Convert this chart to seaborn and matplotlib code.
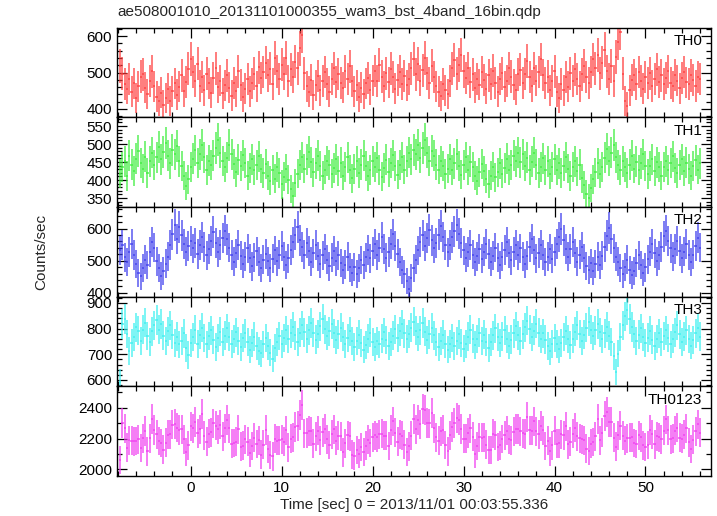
import numpy as np
import matplotlib
matplotlib.use("Agg")
import matplotlib.pyplot as plt
from matplotlib.ticker import MultipleLocator
import seaborn as sns

# binned light curve, 0.25 s bins starting at t = -7.75 s
bin_start = -7.75
bin_width = 0.25

th0 = [518, 497, 468, 455, 482, 447, 470, 431, 462, 489, 495, 458, 441, 476, 503, 462,
       434, 421, 445, 412, 430, 456, 423, 448, 470, 439, 461, 492, 448, 475, 510, 538,
       501, 476, 524, 463, 488, 452, 497, 470, 445, 486, 512, 459, 478, 443, 465, 492,
       458, 437, 471, 449, 503, 466, 432, 455, 481, 448, 470, 497, 462, 515, 484, 501,
       527, 492, 510, 468, 539, 503, 481, 522, 497, 541, 476, 509, 488, 530, 512, 566,
       603, 498, 462, 447, 479, 438, 465, 490, 452, 476, 501, 468, 447, 483, 512, 475,
       496, 471, 458, 503, 482, 517, 476, 449, 465, 432, 458, 441, 470, 486, 453, 478,
       504, 476, 521, 489, 462, 498, 473, 510, 487, 455, 479, 502, 468, 491, 465, 483,
       512, 537, 495, 523, 478, 506, 541, 498, 472, 519, 488, 462, 447, 435, 469, 452,
       441, 476, 512, 534, 497, 521, 548, 503, 486, 512, 473, 495, 458, 482, 467, 501,
       479, 456, 492, 468, 505, 472, 447, 483, 498, 461, 476, 512, 489, 467, 453, 495,
       508, 472, 496, 531, 487, 463, 512, 478, 501, 536, 494, 471, 489, 452, 476, 503,
       447, 431, 468, 452, 487, 461, 498, 476, 509, 483, 462, 495, 518, 487, 472, 501,
       536, 512, 549, 498, 527, 563, 503, 481, 518, 476, 542, 583, 612, 497, 421, 407,
       452, 479, 493, 468, 501, 476, 455, 487, 472, 498, 463, 481, 509, 474, 492, 468,
       485, 503, 471, 462, 494, 478, 457, 486, 501, 473, 468, 492, 479, 463, 488, 482]

th1 = [418, 437, 452, 411, 468, 443, 426, 459, 481, 447, 432, 465, 419, 452, 476, 441,
       463, 491, 457, 478, 502, 468, 446, 483, 471, 495, 452, 438, 412, 384, 402, 437,
       459, 482, 447, 471, 496, 463, 428, 454, 441, 467, 489, 512, 476, 453, 437, 462,
       498, 471, 445, 422, 456, 438, 469, 447, 412, 433, 458, 427, 441, 466, 432, 419,
       445, 412, 398, 427, 404, 436, 419, 388, 409, 432, 401, 376, 356, 392, 418, 441,
       463, 432, 457, 478, 449, 421, 446, 467, 438, 412, 429, 453, 441, 418, 434, 457,
       426, 448, 412, 437, 463, 429, 405, 431, 452, 419, 443, 467, 438, 411, 428, 452,
       437, 462, 428, 409, 433, 456, 421, 447, 469, 438, 415, 441, 463, 429, 452, 476,
       458, 483, 471, 497, 462, 488, 512, 476, 453, 481, 467, 443, 429, 452, 438, 417,
       432, 458, 427, 446, 471, 439, 415, 442, 463, 428, 451, 437, 412, 398, 421, 445,
       426, 403, 389, 412, 437, 408, 421, 446, 418, 433, 459, 427, 441, 468, 452, 476,
       449, 471, 438, 462, 427, 451, 476, 443, 419, 437, 461, 428, 452, 417, 436, 458,
       427, 446, 419, 438, 463, 432, 411, 436, 452, 424, 443, 405, 387, 362, 351, 378,
       402, 421, 446, 418, 437, 462, 487, 453, 476, 498, 463, 441, 428, 452, 437, 419,
       443, 467, 432, 451, 428, 446, 471, 438, 417, 439, 458, 426, 449, 435, 412, 437,
       452, 428, 447, 466, 433, 419, 441, 457, 426, 448, 431, 412, 438, 455, 429, 446]

th2 = [532, 548, 511, 496, 527, 553, 518, 489, 462, 451, 478, 503, 486, 527, 559, 541,
       498, 476, 452, 467, 491, 512, 548, 583, 612, 567, 604, 579, 553, 528, 547, 562,
       538, 556, 521, 549, 573, 542, 517, 536, 561, 589, 554, 527, 548, 571, 593, 566,
       541, 518, 497, 523, 549, 516, 491, 513, 538, 507, 482, 511, 529, 497, 476, 503,
       521, 498, 477, 506, 532, 498, 519, 545, 512, 486, 508, 533, 557, 581, 604, 563,
       542, 519, 556, 531, 497, 523, 548, 514, 491, 517, 536, 503, 482, 509, 531, 498,
       517, 493, 471, 488, 512, 479, 463, 481, 458, 476, 502, 487, 511, 534, 507, 529,
       552, 518, 541, 573, 536, 509, 527, 551, 583, 547, 522, 496, 471, 458, 437, 412,
       446, 478, 503, 532, 558, 579, 547, 571, 596, 563, 538, 556, 581, 607, 574, 549,
       526, 548, 573, 591, 612, 584, 556, 532, 509, 527, 548, 519, 496, 514, 537, 506,
       528, 553, 521, 497, 516, 541, 509, 486, 512, 534, 558, 523, 501, 527, 549, 517,
       538, 512, 491, 516, 543, 568, 532, 507, 524, 549, 518, 496, 513, 537, 506, 528,
       551, 574, 598, 563, 537, 512, 536, 558, 523, 497, 519, 542, 508, 483, 471, 492,
       468, 489, 512, 487, 516, 543, 578, 602, 567, 538, 512, 497, 476, 458, 481, 503,
       472, 455, 468, 493, 517, 486, 463, 479, 504, 528, 551, 523, 498, 517, 542, 576,
       593, 561, 538, 514, 537, 562, 531, 507, 528, 553, 518, 496, 519, 547, 572, 541]

th3 = [592, 818, 836, 779, 712, 743, 768, 805, 791, 752, 796, 823, 771, 747, 789, 812,
       834, 796, 817, 772, 751, 789, 812, 776, 743, 769, 738, 752, 781, 724, 697, 742,
       768, 795, 741, 776, 803, 762, 738, 771, 794, 756, 729, 763, 788, 747, 772, 801,
       769, 741, 758, 786, 752, 727, 763, 781, 749, 718, 742, 769, 733, 712, 704, 738,
       762, 731, 706, 683, 724, 748, 771, 739, 762, 794, 758, 781, 806, 773, 749, 784,
       812, 786, 761, 793, 821, 784, 757, 779, 808, 836, 797, 772, 789, 817, 782, 756,
       778, 803, 769, 741, 763, 789, 752, 728, 751, 776, 743, 718, 736, 761, 784, 749,
       727, 752, 738, 761, 786, 754, 731, 748, 772, 797, 763, 789, 816, 782, 758, 779,
       803, 827, 792, 768, 794, 821, 787, 756, 778, 802, 773, 747, 729, 752, 776, 741,
       718, 739, 763, 731, 752, 778, 744, 722, 741, 769, 795, 761, 737, 759, 784, 752,
       776, 749, 724, 748, 773, 801, 767, 742, 769, 793, 758, 734, 757, 782, 809, 774,
       751, 778, 805, 831, 797, 768, 792, 819, 784, 759, 781, 757, 733, 711, 739, 762,
       741, 719, 743, 768, 792, 758, 736, 761, 787, 812, 779, 753, 776, 803, 827, 796,
       771, 794, 818, 786, 759, 781, 806, 772, 748, 693, 631, 702, 768, 812, 847, 872,
       838, 806, 779, 753, 776, 801, 768, 742, 765, 791, 757, 733, 758, 782, 749, 771,
       794, 762, 738, 761, 786, 812, 777, 748, 769, 793, 758, 734, 756, 781, 803, 769]

# TH0123 is the sum of the four bands
th0123 = list(np.array(th0) + np.array(th1) + np.array(th2) + np.array(th3))

bands = ["TH0", "TH1", "TH2", "TH3", "TH0123"]
series = [th0, th1, th2, th3, th0123]
colors = ["#ff3c3c", "#3cee3c", "#3c3cee", "#3cf0f0", "#f03cf0"]
ylims = [(377, 623), (325, 574), (388, 667), (575, 924), (1957, 2539)]
ymajor = [100, 50, 100, 100, 200]
yminor = [20, 10, 20, 20, 100]

sns.set_theme(style="ticks")
plt.rcParams["font.family"] = ["Liberation Sans", "DejaVu Sans"]

fig, axes = plt.subplots(5, 1, sharex=True, figsize=(7.17, 5.16), dpi=100)
fig.subplots_adjust(left=0.1632, right=0.9916, top=0.9463, bottom=0.0775, hspace=0)

for ax, name, y, c, lim, maj, mnr in zip(axes, bands, series, colors, ylims, ymajor, yminor):
    y = np.array(y, dtype=float)
    t = bin_start + bin_width * np.arange(len(y))
    yerr = np.sqrt(y * bin_width) / bin_width
    ax.errorbar(t, y, yerr=yerr, xerr=bin_width / 2, fmt="none",
                ecolor=c, elinewidth=1.1, alpha=0.85)
    ax.set_ylim(*lim)
    ax.set_xlim(-8.1, 57.2)
    ax.yaxis.set_major_locator(MultipleLocator(maj))
    ax.yaxis.set_minor_locator(MultipleLocator(mnr))
    ax.xaxis.set_major_locator(MultipleLocator(10))
    ax.xaxis.set_minor_locator(MultipleLocator(2))
    ax.tick_params(which="both", direction="in", top=True, right=True,
                   labelsize=11, colors="black", width=0.9)
    ax.tick_params(which="major", length=7)
    ax.tick_params(which="minor", length=3.5)
    for s in ax.spines.values():
        s.set_color("black")
        s.set_linewidth(1.0)
    ax.text(0.985, 0.93, name, transform=ax.transAxes, ha="right", va="top",
            fontsize=11, color="black")

fig.text(0.1632, 0.976, "ae508001010_20131101000355_wam3_bst_4band_16bin.qdp",
         ha="left", va="center", fontsize=11)
fig.text(0.057, 0.512, "Counts/sec", rotation=90, ha="center", va="center", fontsize=11)
axes[-1].set_xlabel("Time [sec] 0 = 2013/11/01 00:03:55.336", fontsize=11, labelpad=2)

fig.savefig("out.png", dpi=100)
